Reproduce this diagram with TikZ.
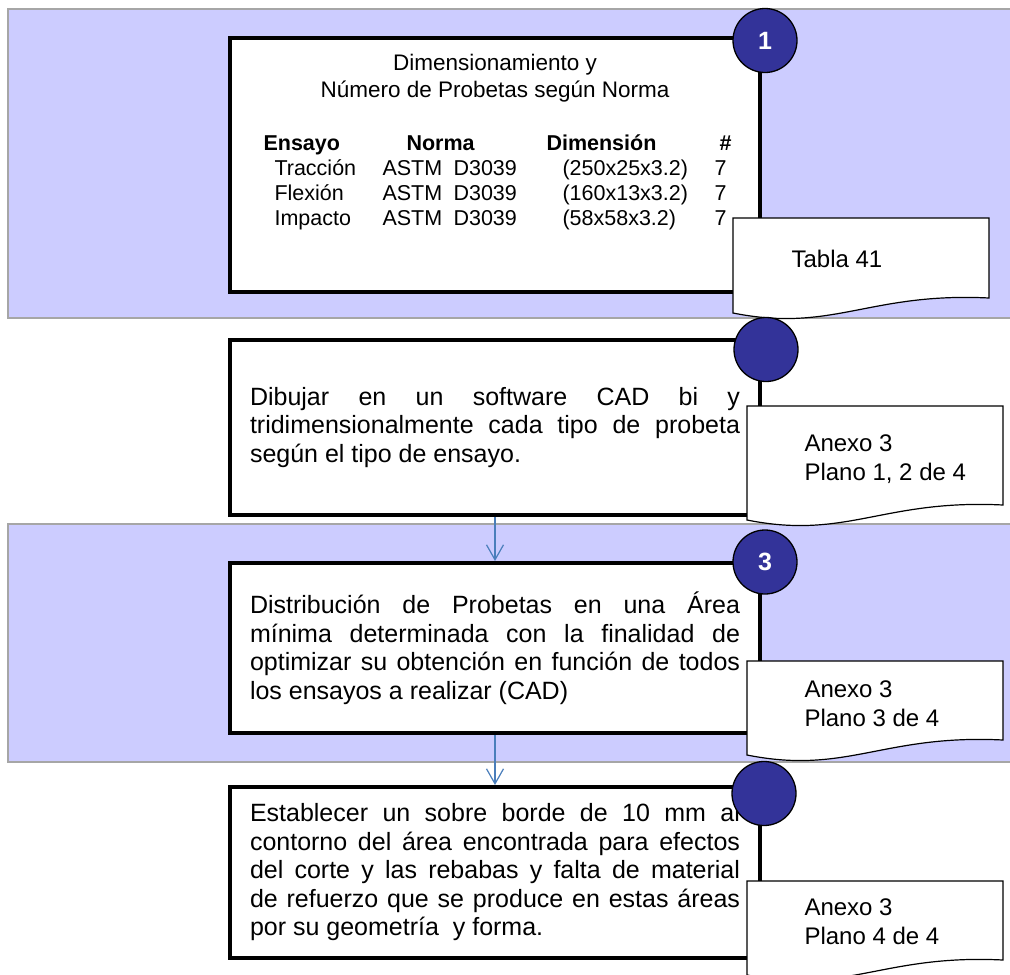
\documentclass[tikz,border=0pt]{standalone}
\usepackage{fontspec}
\setmainfont{Liberation Sans}
\usetikzlibrary{arrows.meta, positioning}

\definecolor{bandfill}{HTML}{CCCCFF}
\definecolor{bandline}{HTML}{A6A6A6}
\definecolor{markfill}{HTML}{333399}
\definecolor{arrowblue}{HTML}{4A7EBB}

\tolerance=9999
\hbadness=10000

% sheet with wavy bottom: left, top, right, bottom at the right end
\newcommand{\hojadoc}[4]{%
  \filldraw[hoja] (#1,#2) -- (#3,#2) -- (#3,#4)
    .. controls +(-120,-6) and +(100,20) .. (#1,#4+15) -- cycle;}

\begin{document}
\begin{tikzpicture}[
        x=1pt, y=-1pt,
        band/.style={fill=bandfill, draw=bandline, line width=1.5pt},
        paso/.style={draw, line width=4pt, fill=white, minimum width=530pt, inner sep=0pt,
            text width=490pt, align=justify, font=\fontsize{25}{28.5}\selectfont},
        marca/.style={circle, draw, line width=1.3pt, fill=markfill, minimum size=64pt,
            inner sep=0pt, text=white, font=\bfseries\fontsize{25}{25}\selectfont},
        hoja/.style={draw, line width=1.2pt, fill=white},
        hojatxt/.style={anchor=west, align=left, font=\fontsize{24}{29}\selectfont},
        celda/.style={anchor=base west, font=\fontsize{21.5}{25}\selectfont},
        flecha/.style={draw=arrowblue, line width=1.2pt, -{Straight Barb[length=15pt, width=17pt]}},
    ]
        \useasboundingbox (0,0) rectangle (1010,975);
        \clip (0,0) rectangle (1010,975);
        \fill[white] (0,0) rectangle (1010,975);

        % Shaded bands
        \filldraw[band] (8,9) rectangle (1060,318);
        \filldraw[band] (8,524) rectangle (1060,762);

        % Steps
        \node[paso, minimum height=254pt] (box1) at (495,165) {};
        \node[paso, minimum height=175pt] (box2) at (495,427.5)
            {Dibujar en un software CAD bi y\linebreak
             tridimensionalmente cada tipo de probeta\linebreak
             según el tipo de ensayo.};
        \node[paso, minimum height=170pt] (box3) at (495,648)
            {Distribución de Probetas en una Área\linebreak
             mínima determinada con la finalidad de\linebreak
             optimizar su obtención en función de todos\linebreak
             los ensayos a realizar (CAD)};
        \node[paso, minimum height=171pt] (box4) at (495,872.5)
            {Establecer un sobre borde de 10 mm al\linebreak
             contorno del área encontrada para efectos\linebreak
             del corte y las rebabas y falta de material\linebreak
             de refuerzo que se produce en estas áreas\linebreak
             por su geometría\ \ y forma.};

        % Table inside the first step
        \node[align=center, font=\fontsize{22.5}{27}\selectfont] (titulo) at (495,78)
            {Dimensionamiento y\\Número de Probetas según Norma};
        \foreach \x/\t in {260/Ensayo, 403/Norma, 543/Dimensión, 716/\#}
            \node[celda, font=\bfseries\fontsize{21.5}{25}\selectfont] (h\x) at (\x,150) {\t};
        \foreach \y/\a/\d in {175/Tracción/{(250x25x3.2)}, 200/Flexión/{(160x13x3.2)}, 225/Impacto/{(58x58x3.2)}} {
            \node[celda] (e\y) at (271,\y) {\a};
            \node[celda] (n\y) at (379,\y) {ASTM};
            \node[celda] (s\y) at (450,\y) {D3039};
            \node[celda] (d\y) at (559,\y) {\d};
            \node[celda] (c\y) at (711,\y) {7};
        }

        % Reference sheets
        \hojadoc{733}{218}{989}{298}
        \node[hojatxt] (doc1) at (788,259) {Tabla 41};
        \hojadoc{747}{406}{1003}{505}
        \node[hojatxt] (doc2) at (801,459) {Anexo 3\\Plano 1, 2 de 4};
        \hojadoc{747}{661}{1003}{740}
        \node[hojatxt] (doc3) at (801,704) {Anexo 3\\Plano 3 de 4};
        \hojadoc{747}{881}{1003}{960}
        \node[hojatxt] (doc4) at (801,922) {Anexo 3\\Plano 4 de 4};

        % Step markers
        \node[marca] (m1) at (765,40.5) {1};
        \node[marca] (m2) at (766,349.5) {};
        \node[marca] (m3) at (765,562) {3};
        \node[marca] (m4) at (764,793.5) {};

        % Flow
        \draw[flecha] (box2) -- (box3);
        \draw[flecha] (box3) -- (box4);
    \end{tikzpicture}
\end{document}
